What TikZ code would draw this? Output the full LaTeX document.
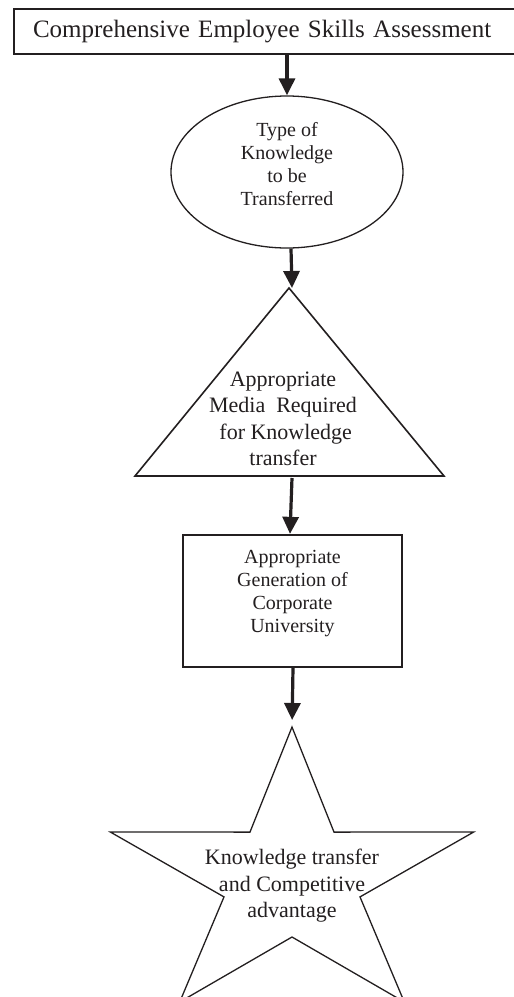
\documentclass[tikz,border=0pt]{standalone}
\usepackage{fontspec}
\setmainfont{Liberation Serif}
\usetikzlibrary{arrows.meta,shapes.geometric}
\definecolor{ink}{RGB}{35,31,32}
\tikzset{
  shapeline/.style={draw=ink, line width=1.4pt},
  arr/.style={draw=ink, line width=3.2pt, -{Triangle[width=16pt,length=17pt]}},
  bigtext/.style={font=\fontsize{25pt}{30pt}\selectfont, text=ink},
  midtext/.style={font=\fontsize{20pt}{23pt}\selectfont, text=ink, align=center},
  lgtext/.style={font=\fontsize{22pt}{26.5pt}\selectfont, text=ink, align=center}
}
\begin{document}
\begin{tikzpicture}[x=1pt,y=-1pt]
\path[use as bounding box, clip] (0,0) rectangle (514,997);
\fill[white] (0,0) rectangle (514,997);

% top box
\node[shapeline, line width=2pt, rectangle, anchor=west, text width=470pt, align=left, inner xsep=19pt, inner ysep=0pt, minimum height=45.5pt, bigtext]
  (top) at (13,31.5) {Comprehensive Employee Skills Assessment};

% ellipse
\node[shapeline, line width=1.3pt, ellipse, minimum width=232pt, minimum height=152pt, inner sep=0pt, midtext, text depth=17pt]
  (ell) at (287,172) {Type of\\Knowledge\\to be\\Transferred};

% triangle
\coordinate (triapex) at (289,288);
\coordinate (triright) at (444,476);
\coordinate (trileft) at (135,476);
\draw[shapeline, line width=1.6pt, line join=miter] (triapex) -- (triright) -- (trileft) -- cycle;
\node[lgtext] (tri) at (283,419) {Appropriate\\Media\ \ Required\\\ for Knowledge\\transfer};

% second box
\node[shapeline, line width=2.3pt, rectangle, minimum width=219pt, minimum height=132pt, inner sep=0pt, midtext, text depth=20pt]
  (box) at (292.5,601) {Appropriate\\Generation of\\Corporate\\University};

% star
\coordinate (s0) at (292,727);
\coordinate (s1) at (334,832.1);
\coordinate (s2) at (473.7,832);
\coordinate (s3) at (360,896.9);
\coordinate (s4) at (404.3,1002);
\coordinate (s5) at (292,937);
\coordinate (s6) at (179.7,1002);
\coordinate (s7) at (224,896.9);
\coordinate (s8) at (110.3,832);
\coordinate (s9) at (250,832.1);
\draw[shapeline, line width=1.3pt, line join=miter] (s0) -- (s1) -- (s2) -- (s3) -- (s4) -- (s5) -- (s6) -- (s7) -- (s8) -- (s9) -- cycle;
\node[lgtext] (star) at (292,886) {Knowledge transfer\\and Competitive\\advantage};

% connectors
\draw[arr] (top.south -| ell.north) -- (ell.north);
\draw[arr] ([xshift=4pt]ell.south) -- ([xshift=3pt]triapex);
\draw[arr] ([xshift=3pt,yshift=-2pt]trileft -| triapex) -- ([xshift=-2.5pt]box.north);
\draw[arr, shorten >=7pt] ([xshift=0.5pt]box.south) -- (s0);
\end{tikzpicture}
\end{document}
